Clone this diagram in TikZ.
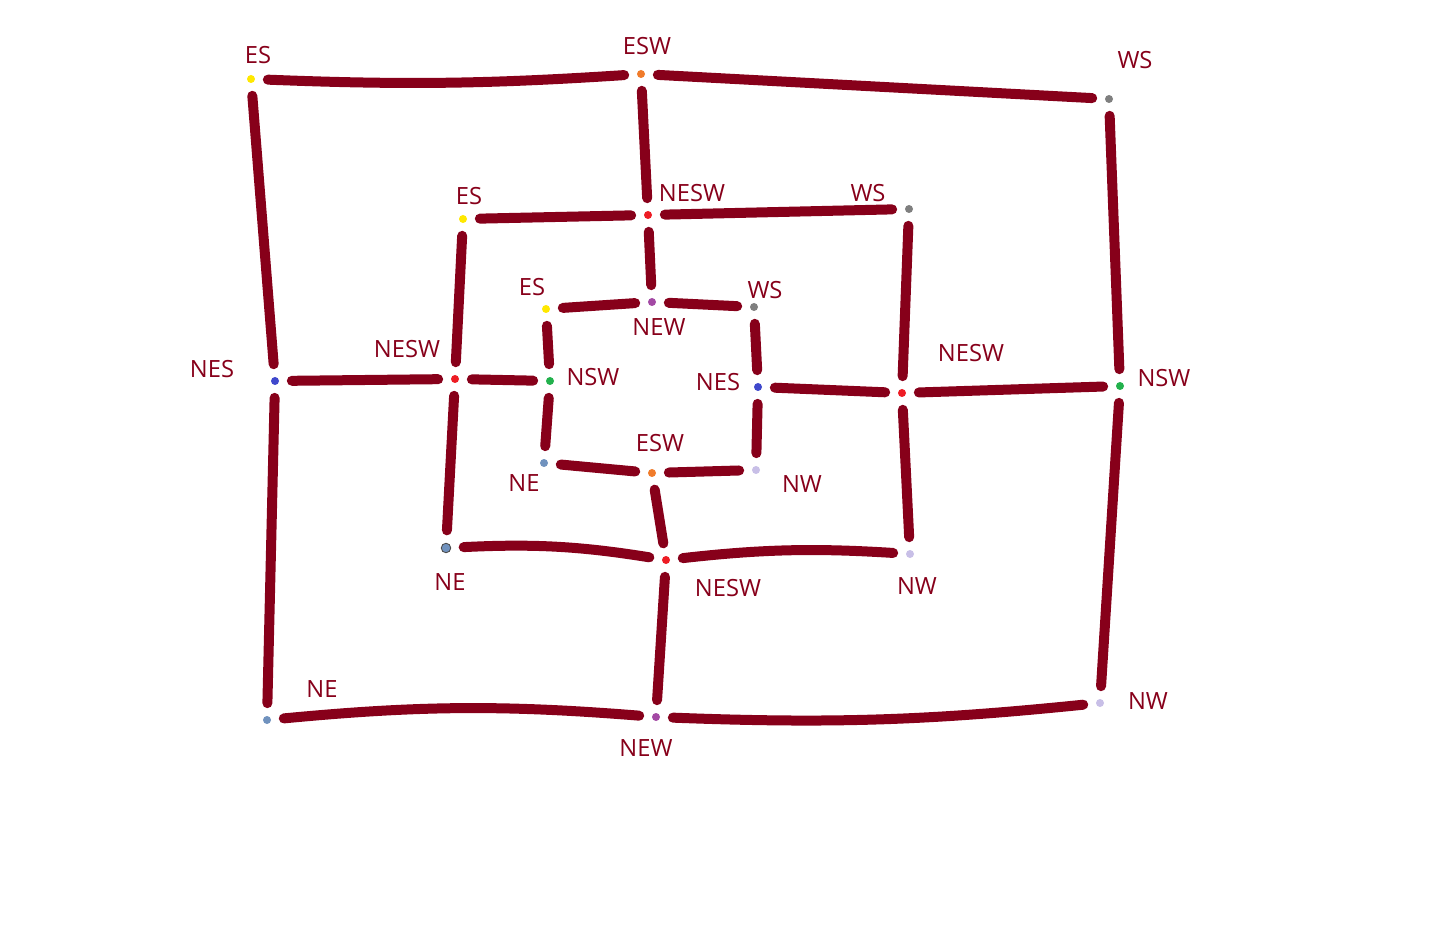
\documentclass[tikz,border=0pt]{standalone}
\usepackage{fontspec}
\setmainfont{Open Sans}
\usetikzlibrary{positioning}
\definecolor{roadred}{HTML}{87001A}
\definecolor{dotyellow}{HTML}{FFE800}
\definecolor{dotorange}{HTML}{F07B2A}
\definecolor{dotgray}{HTML}{7F7F7F}
\definecolor{dotblue}{HTML}{3F48CC}
\definecolor{dotgreen}{HTML}{22B14C}
\definecolor{dotred}{HTML}{ED1C24}
\definecolor{dotpurple}{HTML}{A349A4}
\definecolor{dotsteel}{HTML}{7092BE}
\definecolor{dotlav}{HTML}{C8BFE7}

\begin{document}
\begin{tikzpicture}[x=0.02cm,y=-0.02cm,
  road/.style={line width=0.2cm,roadred,line cap=round,shorten <=0.25cm,shorten >=0.25cm},
  dot/.style={circle,inner sep=0pt,minimum size=0.16cm,fill=#1},
  tag/.style={text=roadred,inner sep=0pt,font=\fontsize{13.5}{16}\selectfont}]
  \useasboundingbox (0,0) rectangle (1454,942);

  % outer ring
  \node[dot=dotyellow] (oES)   at (251,79)  {};
  \node[dot=dotorange] (oESW)  at (641,74)  {};
  \node[dot=dotgray]   (oWS)   at (1109,99) {};
  \node[dot=dotblue]   (oNES)  at (275,381) {};
  \node[dot=dotgreen]  (oNSW)  at (1120,386) {};
  \node[dot=dotsteel]  (oNE)   at (267,720) {};
  \node[dot=dotpurple] (oNEW)  at (656,717) {};
  \node[dot=dotlav]    (oNW)   at (1100,703) {};
  % middle ring
  \node[dot=dotyellow] (mES)   at (463,219) {};
  \node[dot=dotred]    (mNESWt) at (648,215) {};
  \node[dot=dotgray]   (mWS)   at (909,209) {};
  \node[dot=dotred]    (mNESWl) at (455,379) {};
  \node[dot=dotred]    (mNESWr) at (902,393) {};
  \node[dot=dotsteel,draw=dotgray!60!black,line width=0.5pt,minimum size=0.19cm] (mNE) at (446,548) {};
  \node[dot=dotred]    (mNESWb) at (666,560) {};
  \node[dot=dotlav]    (mNW)   at (910,554) {};
  % inner ring
  \node[dot=dotyellow] (iES)   at (546,309) {};
  \node[dot=dotpurple] (iNEW)  at (652,302) {};
  \node[dot=dotgray]   (iWS)   at (754,307) {};
  \node[dot=dotgreen]  (iNSW)  at (550,381) {};
  \node[dot=dotblue]   (iNES)  at (758,387) {};
  \node[dot=dotsteel]  (iNE)   at (544,463) {};
  \node[dot=dotorange] (iESW)  at (652,473) {};
  \node[dot=dotlav]    (iNW)   at (756,470) {};

  % labels
  \node[tag] (tOES)   at (258,55)  {ES};
  \node[tag] (tOESW)  at (647,46)  {ESW};
  \node[tag] (tOWS)   at (1135,60) {WS};
  \node[tag] (tONES)  at (212,369) {NES};
  \node[tag] (tONSW)  at (1164,378) {NSW};
  \node[tag] (tONE)   at (322,689) {NE};
  \node[tag] (tONEW)  at (646,748) {NEW};
  \node[tag] (tONW)   at (1148,701) {NW};
  \node[tag] (tMES)   at (469,196) {ES};
  \node[tag] (tMNESWt) at (692,193) {NESW};
  \node[tag] (tMWS)   at (868,193) {WS};
  \node[tag] (tMNESWl) at (407,349) {NESW};
  \node[tag] (tMNESWr) at (971,353) {NESW};
  \node[tag] (tMNE)   at (450,582) {NE};
  \node[tag] (tMNESWb) at (728,588) {NESW};
  \node[tag] (tMNW)   at (917,586) {NW};
  \node[tag] (tIES)   at (532,287) {ES};
  \node[tag] (tINEW)  at (659,327) {NEW};
  \node[tag] (tIWS)   at (765,290) {WS};
  \node[tag] (tINSW)  at (593,377) {NSW};
  \node[tag] (tINES)  at (718,382) {NES};
  \node[tag] (tINE)   at (524,483) {NE};
  \node[tag] (tIESW)  at (660,443) {ESW};
  \node[tag] (tINW)   at (802,484) {NW};

  % roads
  \foreach \a/\b in {oESW/oWS,oWS/oNSW,oNSW/oNW,oNE/oNES,oNES/oES,
      oESW/mNESWt,oNES/mNESWl,oNSW/mNESWr,oNEW/mNESWb,
      mES/mNESWt,mNESWt/mWS,mWS/mNESWr,mNESWr/mNW,mNESWl/mES,mNE/mNESWl,
      mNESWt/iNEW,mNESWl/iNSW,mNESWr/iNES,mNESWb/iESW,
      iES/iNEW,iNEW/iWS,iWS/iNES,iNES/iNW,iNW/iESW,iESW/iNE,iNE/iNSW,iNSW/iES}
    \draw[road] (\a) -- (\b);
  \draw[road] (oES) to[bend right=3] (oESW);
  \draw[road] (oNE) to[bend left=5] (oNEW);
  \draw[road] (oNEW) to[bend right=4] (oNW);
  \draw[road] (mNE) to[bend left=6] (mNESWb);
  \draw[road] (mNESWb) to[bend left=5] (mNW);
\end{tikzpicture}
\end{document}
